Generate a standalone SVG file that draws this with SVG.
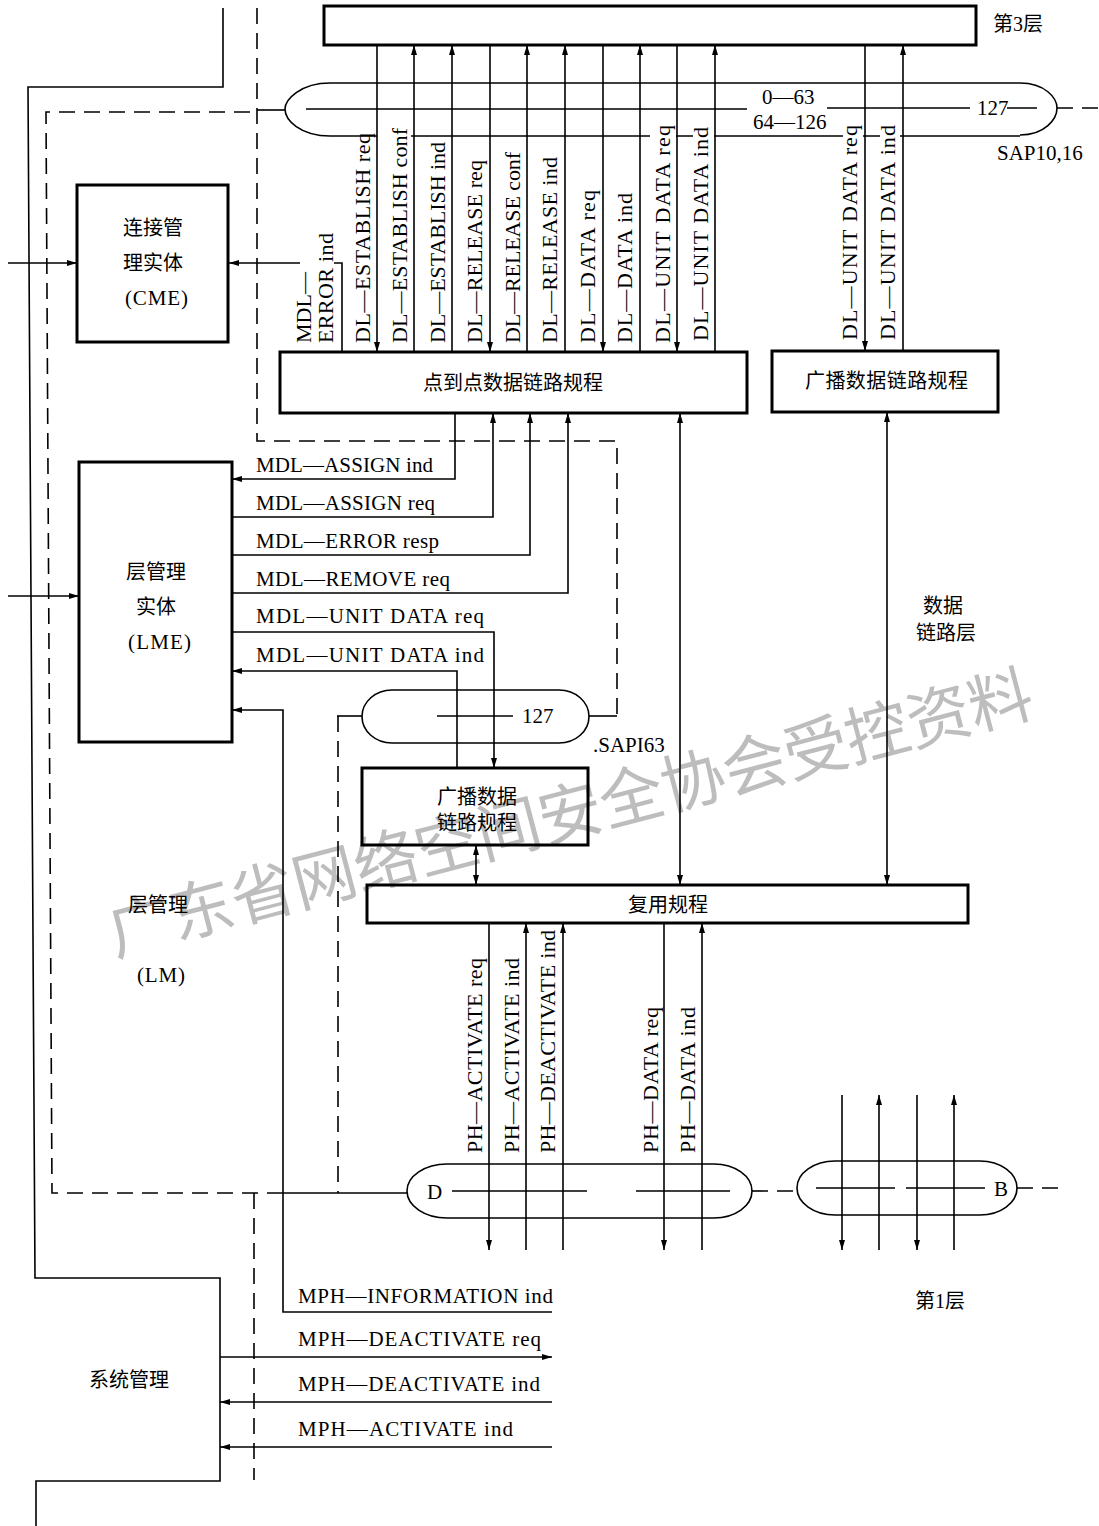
<svg xmlns="http://www.w3.org/2000/svg" width="1099" height="1526" viewBox="0 0 1099 1526">
<defs>
<marker id="ah" viewBox="0 0 10 6" refX="10" refY="3" markerWidth="10" markerHeight="6" markerUnits="userSpaceOnUse" orient="auto-start-reverse"><path d="M0,0 L10,3 L0,6 z" fill="#000"/></marker>
<style>
.ln{stroke:#000;stroke-width:1.6;fill:none}
.bx{stroke:#000;stroke-width:3;fill:none}
.ds{stroke:#000;stroke-width:1.6;fill:none;stroke-dasharray:16 9}
.ar{marker-end:url(#ah)}
.da{marker-start:url(#ah);marker-end:url(#ah)}
.la{font-family:"Liberation Serif",serif;font-size:21px;fill:#000}
.lv{font-family:"Liberation Serif",serif;font-size:22px;fill:#000}
.cj{font-family:"Liberation Serif","Noto Sans CJK SC",sans-serif;font-size:20px;fill:#000}
.wm{font-family:"Noto Sans CJK SC",sans-serif;font-size:64px;fill:#bdbdbd}
</style>
</defs>
<rect width="1099" height="1526" fill="#fff"/>
<text class="wm" transform="translate(115,956) rotate(-14.7)" textLength="953" lengthAdjust="spacing">广东省网络空间安全协会受控资料</text>

<g id="connectors">
<!-- left frame lines -->
<path class="ln" d="M223,8 V87 H28 L35,1278 H220 V1481 H36 V1526"/>
<path class="ds" d="M250,112 H46 L52,1193 H283"/>
<path class="ln" d="M257,110 H285"/>
<path class="ds" d="M257,8 V441 H617 V716"/>
<path class="ln" d="M617,716 H589"/>
<path class="ds" d="M254,1193 V1480"/>
<path class="ln" d="M337,716 H362"/>
<path class="ds" d="M338,716 V1193"/>
<path class="ln" d="M283,1193 H407"/>
<path class="ds" d="M752,1191 H797"/>
<path class="ds" d="M1017,1188 H1067"/>
<path class="ds" d="M1057,108 H1099"/>
<!-- inputs to CME/LME -->
<path class="ln ar" d="M8,263 H77"/>
<path class="ln ar" d="M8,596 H79"/>
<!-- MDL-ERROR ind -->
<path class="ln" d="M342,352 V263 H334"/>
<path class="ln ar" d="M300,263 H229"/>
<!-- DL primitives -->
<path class="ln ar" d="M377,45 V352"/>
<path class="ln ar" d="M414,352 V45"/>
<path class="ln ar" d="M452,352 V45"/>
<path class="ln ar" d="M490,45 V352"/>
<path class="ln ar" d="M527,352 V45"/>
<path class="ln ar" d="M565,352 V45"/>
<path class="ln ar" d="M603,45 V352"/>
<path class="ln ar" d="M640,352 V45"/>
<path class="ln ar" d="M677,45 V352"/>
<path class="ln ar" d="M715,352 V45"/>
<path class="ln ar" d="M865,45 V351"/>
<path class="ln ar" d="M903,351 V45"/>
<!-- MDL primitives -->
<path class="ln ar" d="M455,413 V479 H232"/>
<path class="ln ar" d="M232,517 H493 V413"/>
<path class="ln ar" d="M232,555 H530 V413"/>
<path class="ln ar" d="M232,593 H568 V413"/>
<path class="ln ar" d="M232,632 H494 V768"/>
<path class="ln ar" d="M457,768 V671 H232"/>
<path class="ln ar" d="M552,1312 H283 V710 H232"/>
<!-- data link internal -->
<path class="ln da" d="M680,413 V885"/>
<path class="ln da" d="M887,412 V885"/>
<path class="ln da" d="M476,845 V885"/>
<!-- PH primitives -->
<path class="ln ar" d="M489,923 V1250"/>
<path class="ln ar" d="M526,1250 V923"/>
<path class="ln ar" d="M563,1250 V923"/>
<path class="ln ar" d="M664,923 V1250"/>
<path class="ln ar" d="M702,1250 V923"/>
<!-- B channel -->
<path class="ln ar" d="M842,1095 V1250"/>
<path class="ln ar" d="M879,1250 V1095"/>
<path class="ln ar" d="M917,1095 V1250"/>
<path class="ln ar" d="M954,1250 V1095"/>
<!-- MPH primitives -->
<path class="ln ar" d="M220,1357 H552"/>
<path class="ln ar" d="M552,1402 H220"/>
<path class="ln ar" d="M552,1447 H220"/>
</g>

<g id="layer3">
<rect class="bx" x="324" y="6" width="652" height="39"/>
<text class="cj" x="993" y="31">第3层</text>
</g>

<g id="sap-top">
<path class="ln" d="M330,83 H1020 M330,83 C300,83 285,100 285,109 C285,120 300,136 330,136 M1020,83 C1045,83 1057,98 1057,108 C1057,119 1045,135 1020,135"/>
<path class="ln" d="M330,136 H377 M411,136 H650 M676,136 H693 M714,136 H843 M863,136 H880 M900,136 H1020"/>
<path class="ln" d="M306,109 H747 M827,108 H970 M1007,108 H1037"/>
<text class="la" x="762" y="104" font-size="20">0—63</text>
<text class="la" x="753" y="129" font-size="20">64—126</text>
<text class="la" x="977" y="115" font-size="20">127</text>
<text class="la" x="997" y="160" font-size="20">SAP10,16</text>
</g>

<g id="dl-labels">
<text class="lv" transform="translate(311,343) rotate(-90)">MDL—</text>
<text class="lv" transform="translate(333,343) rotate(-90)" textLength="110">ERROR ind</text>
<text class="lv" transform="translate(370,343) rotate(-90)" textLength="210">DL—ESTABLISH req</text>
<text class="lv" transform="translate(407,343) rotate(-90)" textLength="215">DL—ESTABLISH conf</text>
<text class="lv" transform="translate(445,343) rotate(-90)" textLength="201">DL—ESTABLISH ind</text>
<text class="lv" transform="translate(482,343) rotate(-90)" textLength="183">DL—RELEASE req</text>
<text class="lv" transform="translate(520,343) rotate(-90)" textLength="191">DL—RELEASE conf</text>
<text class="lv" transform="translate(557,343) rotate(-90)" textLength="186">DL—RELEASE ind</text>
<text class="lv" transform="translate(595,343) rotate(-90)" textLength="153">DL—DATA req</text>
<text class="lv" transform="translate(632,343) rotate(-90)" textLength="150">DL—DATA ind</text>
<text class="lv" transform="translate(670,343) rotate(-90)" textLength="218">DL—UNIT DATA req</text>
<text class="lv" transform="translate(708,341) rotate(-90)" textLength="214">DL—UNIT DATA ind</text>
<text class="lv" transform="translate(857,340) rotate(-90)" textLength="215">DL—UNIT DATA req</text>
<text class="lv" transform="translate(895,340) rotate(-90)" textLength="215">DL—UNIT DATA ind</text>
</g>

<g id="cme">
<rect class="bx" x="77" y="185" width="151" height="157"/>
<text class="cj" x="123" y="235">连接管</text>
<text class="cj" x="123" y="270">理实体</text>
<text class="la" x="125" y="305" font-size="20" textLength="63">(CME)</text>
</g>

<g id="p2p">
<rect class="bx" x="280" y="352" width="467" height="61"/>
<text class="cj" x="423" y="390">点到点数据链路规程</text>
</g>

<g id="bcast-top">
<rect class="bx" x="772" y="351" width="226" height="61"/>
<text class="cj" x="805" y="388" textLength="163">广播数据链路规程</text>
</g>

<g id="lme">
<rect class="bx" x="79" y="462" width="153" height="280"/>
<text class="cj" x="126" y="579">层管理</text>
<text class="cj" x="136" y="614">实体</text>
<text class="la" x="128" y="649" font-size="20" textLength="63">(LME)</text>
</g>

<g id="mdl-labels">
<text class="la" x="256" y="472" textLength="177">MDL—ASSIGN ind</text>
<text class="la" x="256" y="510" textLength="179">MDL—ASSIGN req</text>
<text class="la" x="256" y="548" textLength="183">MDL—ERROR resp</text>
<text class="la" x="256" y="586" textLength="194">MDL—REMOVE req</text>
<text class="la" x="256" y="623" textLength="228">MDL—UNIT DATA req</text>
<text class="la" x="256" y="662" textLength="228">MDL—UNIT DATA ind</text>
</g>

<g id="sapi63">
<path class="ln" d="M392,690 H559 A30,26.5 0 0 1 559,743 H392 A30,26.5 0 0 1 392,690 Z"/>
<path class="ln" d="M437,716 H513"/>
<text class="la" x="522" y="723" font-size="20">127</text>
<text class="la" x="593" y="752" font-size="20">.SAPI63</text>
</g>

<g id="bcast-low">
<rect class="bx" x="362" y="768" width="226" height="77"/>
<text class="cj" x="437" y="804">广播数据</text>
<text class="cj" x="437" y="830">链路规程</text>
</g>

<g id="dl-layer-label">
<text class="cj" x="923" y="613">数据</text>
<text class="cj" x="916" y="640">链路层</text>
</g>

<g id="mux">
<rect class="bx" x="367" y="885" width="601" height="38"/>
<text class="cj" x="628" y="912">复用规程</text>
</g>

<g id="lm">
<text class="cj" x="128" y="912">层管理</text>
<text class="la" x="137" y="982" font-size="20" textLength="48">(LM)</text>
</g>

<g id="ph-labels">
<text class="lv" transform="translate(482,1153) rotate(-90)" textLength="195">PH—ACTIVATE req</text>
<text class="lv" transform="translate(519,1153) rotate(-90)" textLength="195">PH—ACTIVATE ind</text>
<text class="lv" transform="translate(555,1153) rotate(-90)" textLength="223">PH—DEACTIVATE ind</text>
<text class="lv" transform="translate(658,1153) rotate(-90)" textLength="146">PH—DATA req</text>
<text class="lv" transform="translate(695,1153) rotate(-90)" textLength="146">PH—DATA ind</text>
</g>

<g id="sap-d">
<path class="ln" d="M447,1164 H714 A38,27 0 0 1 714,1218 H447 A40,27 0 0 1 447,1164 Z"/>
<path class="ln" d="M452,1191 H587 M636,1191 H730"/>
<text class="la" x="427" y="1199">D</text>
</g>

<g id="sap-b">
<path class="ln" d="M835,1161 H980 A37,27 0 0 1 980,1215 H835 A38,27 0 0 1 835,1161 Z"/>
<path class="ln" d="M816,1188 H895 M906,1188 H985"/>
<text class="la" x="994" y="1196">B</text>
</g>

<g id="layer1">
<text class="cj" x="915" y="1308">第1层</text>
</g>

<g id="sysmgmt">
<text class="cj" x="89" y="1387">系统管理</text>
</g>

<g id="mph-labels">
<text class="la" x="298" y="1303" textLength="255">MPH—INFORMATION ind</text>
<text class="la" x="298" y="1346" textLength="243">MPH—DEACTIVATE req</text>
<text class="la" x="298" y="1391" textLength="242">MPH—DEACTIVATE ind</text>
<text class="la" x="298" y="1436" textLength="215">MPH—ACTIVATE ind</text>
</g>
</svg>
